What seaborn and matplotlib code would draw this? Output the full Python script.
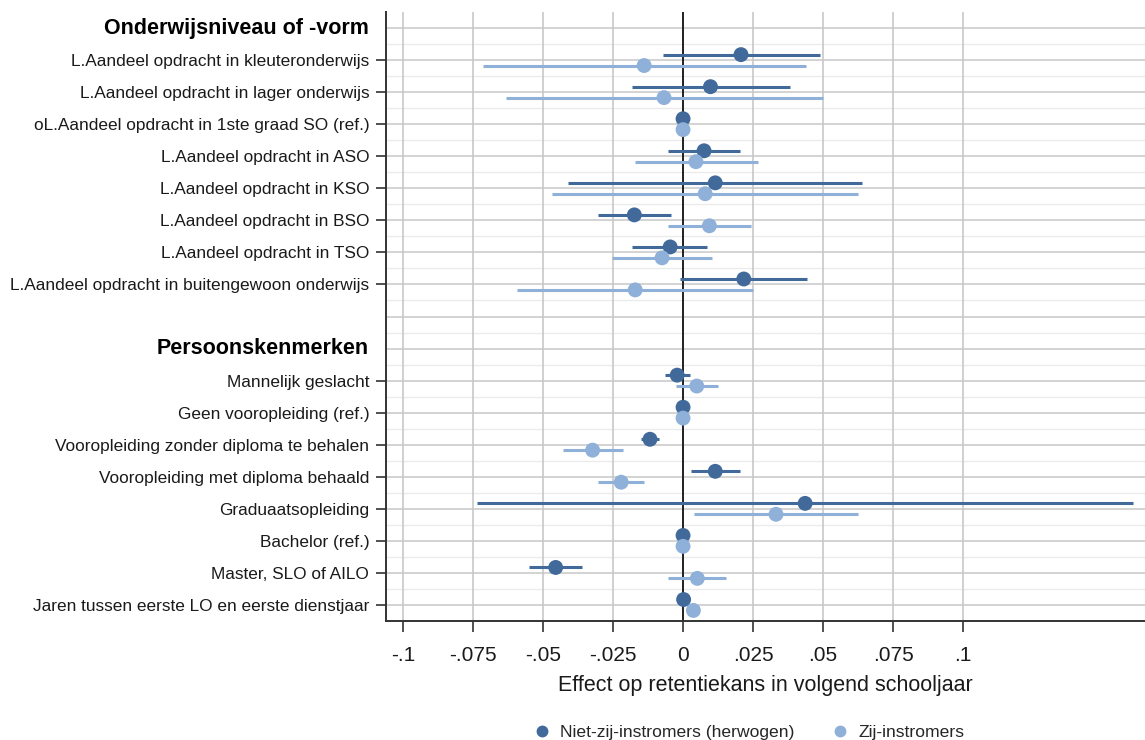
import matplotlib
matplotlib.use("Agg")
import matplotlib.pyplot as plt
import seaborn as sns
import numpy as np
import pandas as pd
from matplotlib.lines import Line2D

# ---- data ----
header1 = "Onderwijsniveau of -vorm"
header2 = "Persoonskenmerken"
labels_group1 = [
    "L.Aandeel opdracht in kleuteronderwijs",
    "L.Aandeel opdracht in lager onderwijs",
    "oL.Aandeel opdracht in 1ste graad SO (ref.)",
    "L.Aandeel opdracht in ASO",
    "L.Aandeel opdracht in KSO",
    "L.Aandeel opdracht in BSO",
    "L.Aandeel opdracht in TSO",
    "L.Aandeel opdracht in buitengewoon onderwijs",
]
labels_group2 = [
    "Mannelijk geslacht",
    "Geen vooropleiding (ref.)",
    "Vooropleiding zonder diploma te behalen",
    "Vooropleiding met diploma behaald",
    "Graduaatsopleiding",
    "Bachelor (ref.)",
    "Master, SLO of AILO",
    "Jaren tussen eerste LO en eerste dienstjaar",
]
series_names = ["Niet-zij-instromers (herwogen)", "Zij-instromers"]

# Niet-zij-instromers (herwogen)
niet_est = [0.0207, 0.0098, 0.0, 0.0075, 0.0115, -0.0174, -0.0046, 0.0217,
            -0.0021, 0.0, -0.0118, 0.0115, 0.0436, 0.0, -0.0455, 0.0002]
niet_lo = [-0.0073, -0.0183, 0.0, -0.0052, -0.0410, -0.0302, -0.0181, -0.0011,
           -0.0064, 0.0, -0.0151, 0.0027, -0.0737, 0.0, -0.0550, 0.0000]
niet_hi = [0.0490, 0.0381, 0.0, 0.0204, 0.0640, -0.0043, 0.0087, 0.0444,
           0.0025, 0.0, -0.0085, 0.0204, 0.1608, 0.0, -0.0360, 0.0004]
# Zij-instromers
zij_est = [-0.0139, -0.0068, 0.0, 0.0046, 0.0079, 0.0094, -0.0075, -0.0171,
           0.0049, 0.0, -0.0323, -0.0221, 0.0332, 0.0, 0.0051, 0.0037]
zij_lo = [-0.0714, -0.0632, 0.0, -0.0171, -0.0467, -0.0055, -0.0252, -0.0594,
          -0.0026, 0.0, -0.0430, -0.0302, 0.0040, 0.0, -0.0052, 0.0033]
zij_hi = [0.0438, 0.0499, 0.0, 0.0267, 0.0625, 0.0243, 0.0105, 0.0251,
          0.0124, 0.0, -0.0215, -0.0139, 0.0625, 0.0, 0.0154, 0.0041]

x_ticks = [-0.1, -0.075, -0.05, -0.025, 0, 0.025, 0.05, 0.075, 0.1]
x_ticklabels = ["-.1", "-.075", "-.05", "-.025", "0", ".025", ".05", ".075", ".1"]
x_label = "Effect op retentiekans in volgend schooljaar"

# ---- layout of rows ----
rows_g1 = list(range(1, 9))
rows_g2 = list(range(11, 19))
item_rows = rows_g1 + rows_g2
item_labels = labels_group1 + labels_group2

dark = "#41699a"
light = "#8fb0d8"
offset = 0.17

df = pd.concat([
    pd.DataFrame({"row": np.array(item_rows) - offset, "est": niet_est, "lo": niet_lo,
                  "hi": niet_hi, "serie": series_names[0]}),
    pd.DataFrame({"row": np.array(item_rows) + offset, "est": zij_est, "lo": zij_lo,
                  "hi": zij_hi, "serie": series_names[1]}),
])

sns.set_style("white")
plt.rcParams["font.family"] = ["Liberation Sans", "DejaVu Sans"]

fig = plt.figure(figsize=(11.45, 7.4), dpi=100)
ax = fig.add_axes([386 / 1145, 1 - 621 / 740, 1 - 386 / 1145, (621 - 12) / 740])

ax.set_xlim(-0.1061, 0.165)
ax.set_ylim(18.5, -0.5)

# grid
for r in range(0, 19):
    ax.axhline(r, color="#cccccc", lw=1.2, zorder=0)
    ax.axhline(r + 0.5, color="#ebebeb", lw=1.0, zorder=0)
for t in x_ticks:
    ax.axvline(t, color="#c8c8c8", lw=1.2, zorder=0)
ax.axvline(0, color="#222222", lw=1.4, zorder=1)

palette = {series_names[0]: dark, series_names[1]: light}
for name in series_names:
    sub = df[df["serie"] == name]
    ax.hlines(sub["row"], sub["lo"], sub["hi"], color=palette[name], lw=2.2, zorder=2)

sns.scatterplot(data=df, x="est", y="row", hue="serie", palette=palette, s=115,
                edgecolor="none", ax=ax, zorder=3, legend=False)

ax.set_yticks(item_rows)
ax.set_yticklabels(item_labels, fontsize=12.4, color="#1a1a1a")
ax.set_xticks(x_ticks)
ax.set_xticklabels(x_ticklabels, fontsize=15, color="#1a1a1a")
ax.set_xlabel(x_label, fontsize=15.5, color="#1a1a1a", labelpad=7)
ax.set_ylabel("")

ax.tick_params(axis="y", direction="out", length=7, width=1.2, color="#333333", pad=5, left=True)
ax.tick_params(axis="x", direction="out", length=8, width=1.2, color="#333333", pad=10, bottom=True)

for s in ["top", "right"]:
    ax.spines[s].set_visible(False)
for s in ["left", "bottom"]:
    ax.spines[s].set_color("#333333")
    ax.spines[s].set_linewidth(1.4)

# headers
for r, txt in [(0, header1), (10, header2)]:
    ax.annotate(txt, xy=(0, r), xycoords=("axes fraction", "data"),
                xytext=(-12.5, 0), textcoords="offset points",
                ha="right", va="center", fontsize=15.5, fontweight="bold", color="black")

# legend
handles = [Line2D([], [], marker="o", ls="none", color=dark, markersize=7.5),
           Line2D([], [], marker="o", ls="none", color=light, markersize=7.5)]
fig.legend(handles, series_names, loc="center", bbox_to_anchor=(748 / 1145, 1 - 732 / 740),
           ncol=2, frameon=False, fontsize=12.6, columnspacing=2.0, handletextpad=0.43,
           handlelength=1.2)

fig.savefig("out.png", dpi=100)
